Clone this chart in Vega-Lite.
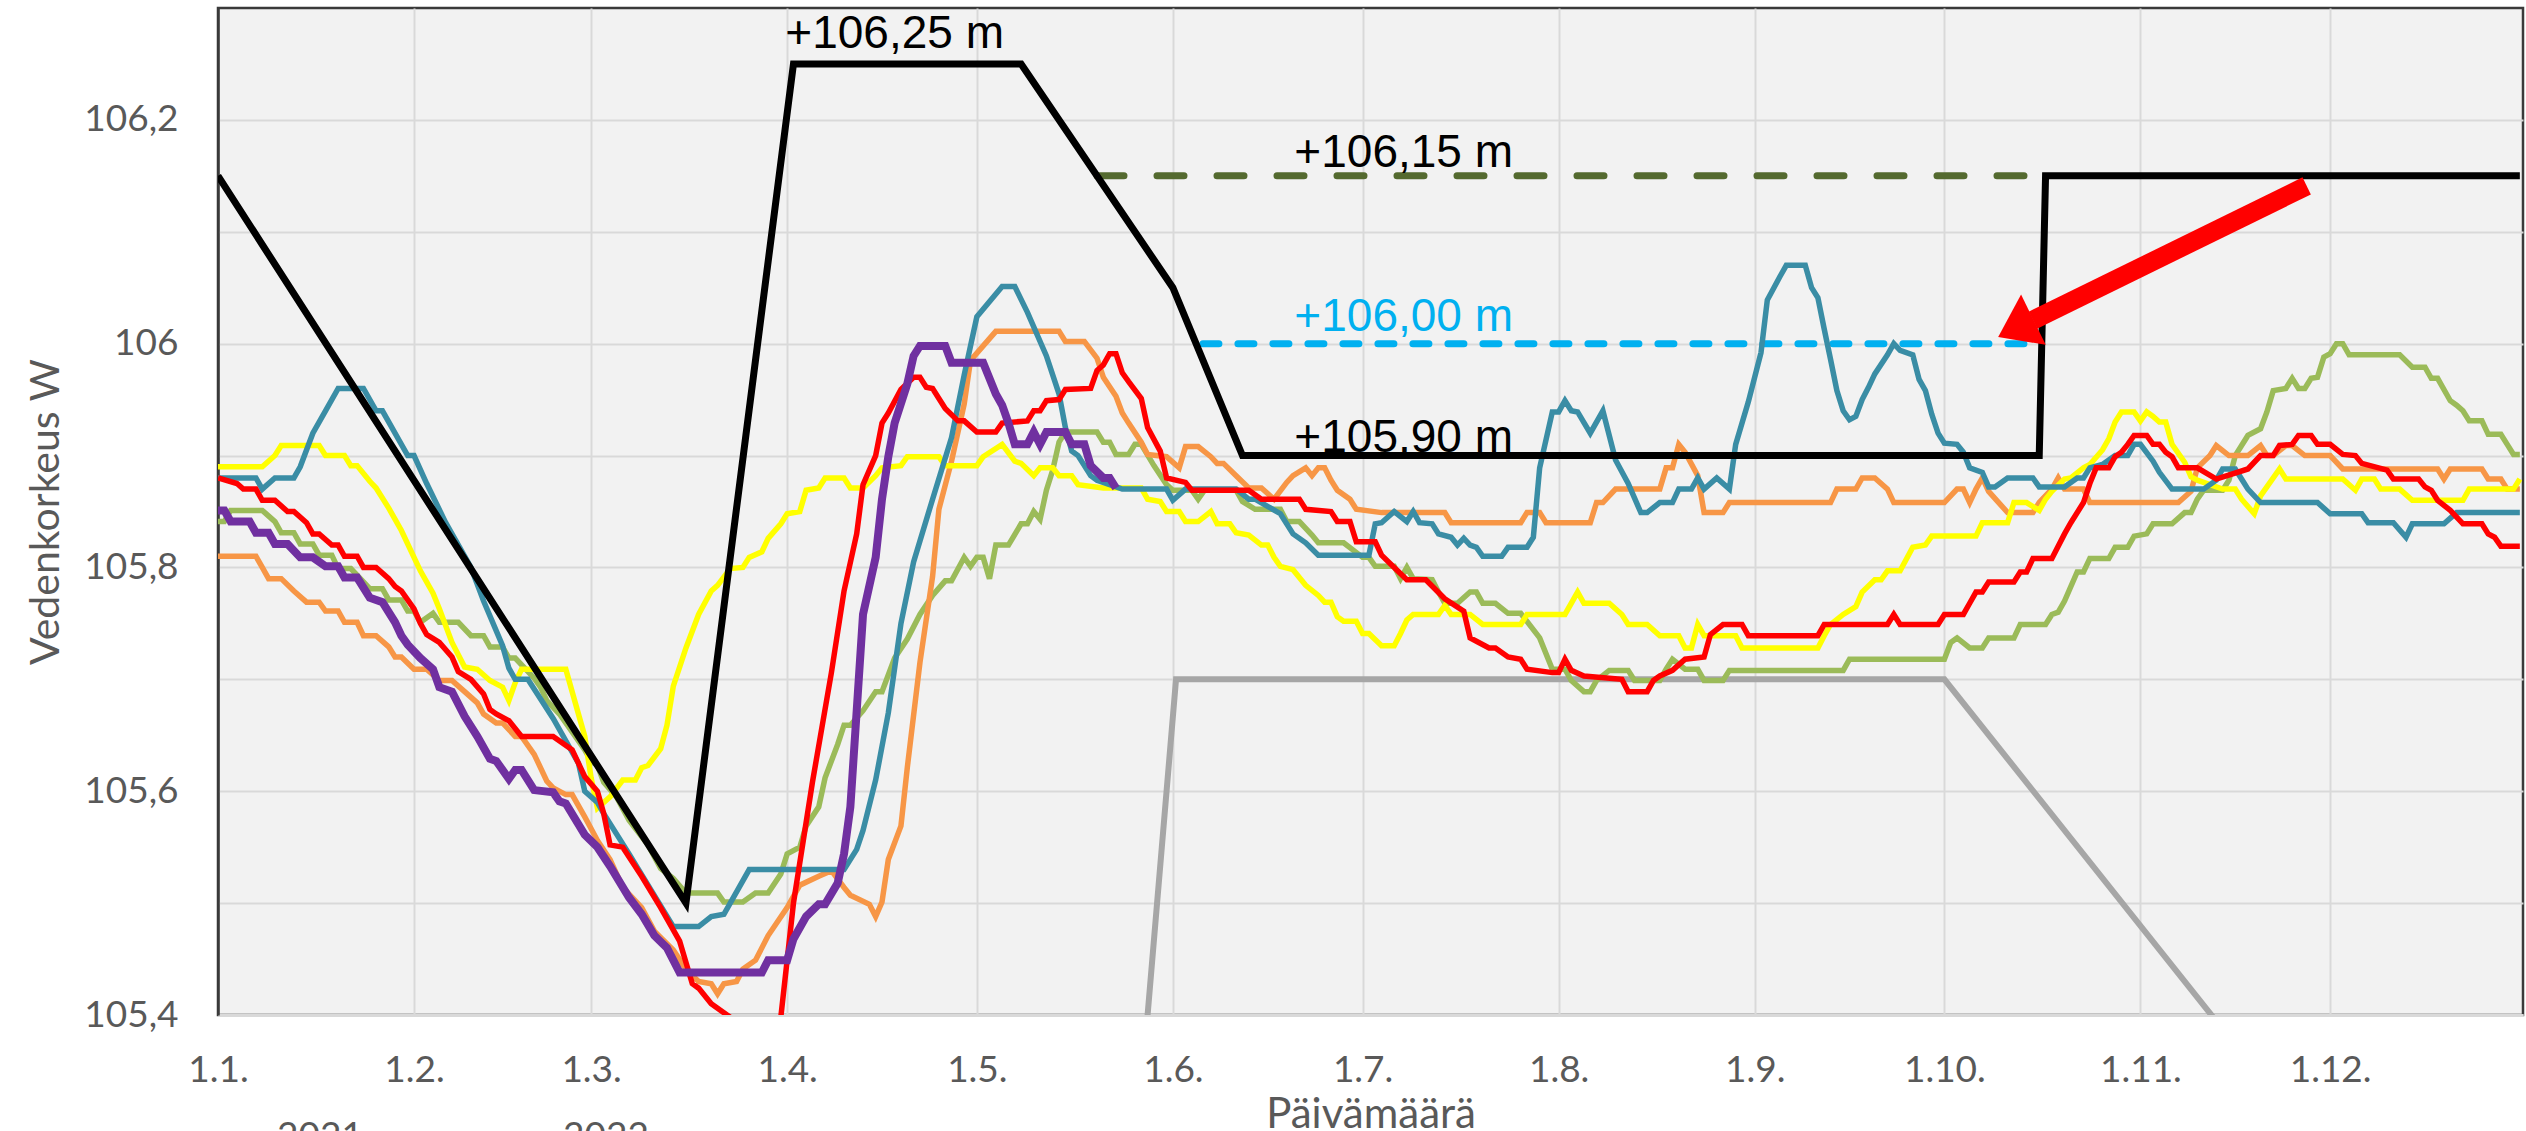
{
  "$schema": "https://vega.github.io/schema/vega-lite/v6.json",
  "autosize": {"type": "none"},
  "padding": {"left": 218, "top": 8, "right": 3, "bottom": 116},
  "width": 2305,
  "height": 1007,
  "background": "#ffffff",
  "config": {
    "view": {"fill": "#f2f2f2", "stroke": "#3a3a3a", "strokeWidth": 2.5}
  },
  "datasets": {
    "years": [
      {"s":"2018","t":"2021-01-01","v":105.841},{"s":"2018","t":"2021-01-02","v":105.841},{"s":"2018","t":"2021-01-03","v":105.851},{"s":"2018","t":"2021-01-08","v":105.851},{"s":"2018","t":"2021-01-10","v":105.841},{"s":"2018","t":"2021-01-11","v":105.831},{"s":"2018","t":"2021-01-13","v":105.831},{"s":"2018","t":"2021-01-14","v":105.821},{"s":"2018","t":"2021-01-16","v":105.821},{"s":"2018","t":"2021-01-17","v":105.811},{"s":"2018","t":"2021-01-19","v":105.811},{"s":"2018","t":"2021-01-20","v":105.799},{"s":"2018","t":"2021-01-22","v":105.799},{"s":"2018","t":"2021-01-24","v":105.787},{"s":"2018","t":"2021-01-25","v":105.781},{"s":"2018","t":"2021-01-27","v":105.781},{"s":"2018","t":"2021-01-28","v":105.771},{"s":"2018","t":"2021-01-30","v":105.771},{"s":"2018","t":"2021-01-31","v":105.761},{"s":"2018","t":"2021-02-01","v":105.761},{"s":"2018","t":"2021-02-02","v":105.751},{"s":"2018","t":"2021-02-04","v":105.759},{"s":"2018","t":"2021-02-05","v":105.751},{"s":"2018","t":"2021-02-08","v":105.751},{"s":"2018","t":"2021-02-10","v":105.739},{"s":"2018","t":"2021-02-12","v":105.739},{"s":"2018","t":"2021-02-13","v":105.729},{"s":"2018","t":"2021-02-15","v":105.729},{"s":"2018","t":"2021-02-16","v":105.719},{"s":"2018","t":"2021-02-17","v":105.719},{"s":"2018","t":"2021-02-20","v":105.701},{"s":"2018","t":"2021-02-21","v":105.693},{"s":"2018","t":"2021-02-22","v":105.681},{"s":"2018","t":"2021-02-24","v":105.669},{"s":"2018","t":"2021-02-25","v":105.661},{"s":"2018","t":"2021-02-28","v":105.637},{"s":"2018","t":"2021-03-01","v":105.627},{"s":"2018","t":"2021-03-02","v":105.623},{"s":"2018","t":"2021-03-03","v":105.608},{"s":"2018","t":"2021-03-05","v":105.595},{"s":"2018","t":"2021-03-07","v":105.574},{"s":"2018","t":"2021-03-10","v":105.552},{"s":"2018","t":"2021-03-12","v":105.531},{"s":"2018","t":"2021-03-14","v":105.522},{"s":"2018","t":"2021-03-16","v":105.509},{"s":"2018","t":"2021-03-21","v":105.509},{"s":"2018","t":"2021-03-22","v":105.501},{"s":"2018","t":"2021-03-25","v":105.501},{"s":"2018","t":"2021-03-27","v":105.509},{"s":"2018","t":"2021-03-29","v":105.509},{"s":"2018","t":"2021-03-31","v":105.526},{"s":"2018","t":"2021-04-01","v":105.544},{"s":"2018","t":"2021-04-03","v":105.55},{"s":"2018","t":"2021-04-04","v":105.569},{"s":"2018","t":"2021-04-06","v":105.586},{"s":"2018","t":"2021-04-07","v":105.612},{"s":"2018","t":"2021-04-09","v":105.642},{"s":"2018","t":"2021-04-10","v":105.659},{"s":"2018","t":"2021-04-11","v":105.659},{"s":"2018","t":"2021-04-13","v":105.672},{"s":"2018","t":"2021-04-15","v":105.689},{"s":"2018","t":"2021-04-16","v":105.689},{"s":"2018","t":"2021-04-18","v":105.719},{"s":"2018","t":"2021-04-20","v":105.736},{"s":"2018","t":"2021-04-22","v":105.758},{"s":"2018","t":"2021-04-24","v":105.775},{"s":"2018","t":"2021-04-26","v":105.788},{"s":"2018","t":"2021-04-27","v":105.788},{"s":"2018","t":"2021-04-29","v":105.809},{"s":"2018","t":"2021-04-30","v":105.801},{"s":"2018","t":"2021-05-01","v":105.809},{"s":"2018","t":"2021-05-02","v":105.809},{"s":"2018","t":"2021-05-03","v":105.79},{"s":"2018","t":"2021-05-04","v":105.82},{"s":"2018","t":"2021-05-06","v":105.82},{"s":"2018","t":"2021-05-08","v":105.839},{"s":"2018","t":"2021-05-09","v":105.839},{"s":"2018","t":"2021-05-10","v":105.85},{"s":"2018","t":"2021-05-11","v":105.843},{"s":"2018","t":"2021-05-12","v":105.869},{"s":"2018","t":"2021-05-13","v":105.887},{"s":"2018","t":"2021-05-14","v":105.912},{"s":"2018","t":"2021-05-15","v":105.921},{"s":"2018","t":"2021-05-20","v":105.921},{"s":"2018","t":"2021-05-21","v":105.912},{"s":"2018","t":"2021-05-22","v":105.912},{"s":"2018","t":"2021-05-23","v":105.901},{"s":"2018","t":"2021-05-25","v":105.901},{"s":"2018","t":"2021-05-26","v":105.91},{"s":"2018","t":"2021-05-27","v":105.91},{"s":"2018","t":"2021-05-29","v":105.891},{"s":"2018","t":"2021-05-31","v":105.874},{"s":"2018","t":"2021-06-01","v":105.869},{"s":"2018","t":"2021-06-04","v":105.869},{"s":"2018","t":"2021-06-05","v":105.861},{"s":"2018","t":"2021-06-06","v":105.869},{"s":"2018","t":"2021-06-11","v":105.869},{"s":"2018","t":"2021-06-12","v":105.859},{"s":"2018","t":"2021-06-14","v":105.852},{"s":"2018","t":"2021-06-18","v":105.852},{"s":"2018","t":"2021-06-19","v":105.841},{"s":"2018","t":"2021-06-21","v":105.841},{"s":"2018","t":"2021-06-23","v":105.829},{"s":"2018","t":"2021-06-24","v":105.822},{"s":"2018","t":"2021-06-28","v":105.822},{"s":"2018","t":"2021-07-01","v":105.809},{"s":"2018","t":"2021-07-02","v":105.809},{"s":"2018","t":"2021-07-03","v":105.801},{"s":"2018","t":"2021-07-06","v":105.801},{"s":"2018","t":"2021-07-07","v":105.79},{"s":"2018","t":"2021-07-08","v":105.8},{"s":"2018","t":"2021-07-09","v":105.79},{"s":"2018","t":"2021-07-12","v":105.789},{"s":"2018","t":"2021-07-13","v":105.778},{"s":"2018","t":"2021-07-14","v":105.768},{"s":"2018","t":"2021-07-16","v":105.768},{"s":"2018","t":"2021-07-18","v":105.778},{"s":"2018","t":"2021-07-19","v":105.778},{"s":"2018","t":"2021-07-20","v":105.768},{"s":"2018","t":"2021-07-22","v":105.768},{"s":"2018","t":"2021-07-24","v":105.759},{"s":"2018","t":"2021-07-26","v":105.759},{"s":"2018","t":"2021-07-29","v":105.737},{"s":"2018","t":"2021-07-31","v":105.709},{"s":"2018","t":"2021-08-02","v":105.709},{"s":"2018","t":"2021-08-03","v":105.699},{"s":"2018","t":"2021-08-05","v":105.689},{"s":"2018","t":"2021-08-06","v":105.689},{"s":"2018","t":"2021-08-07","v":105.699},{"s":"2018","t":"2021-08-09","v":105.708},{"s":"2018","t":"2021-08-12","v":105.708},{"s":"2018","t":"2021-08-13","v":105.699},{"s":"2018","t":"2021-08-17","v":105.699},{"s":"2018","t":"2021-08-18","v":105.709},{"s":"2018","t":"2021-08-19","v":105.718},{"s":"2018","t":"2021-08-21","v":105.709},{"s":"2018","t":"2021-08-23","v":105.709},{"s":"2018","t":"2021-08-24","v":105.699},{"s":"2018","t":"2021-08-27","v":105.699},{"s":"2018","t":"2021-08-28","v":105.708},{"s":"2018","t":"2021-09-15","v":105.708},{"s":"2018","t":"2021-09-16","v":105.718},{"s":"2018","t":"2021-10-01","v":105.718},{"s":"2018","t":"2021-10-02","v":105.733},{"s":"2018","t":"2021-10-03","v":105.737},{"s":"2018","t":"2021-10-05","v":105.728},{"s":"2018","t":"2021-10-07","v":105.728},{"s":"2018","t":"2021-10-08","v":105.737},{"s":"2018","t":"2021-10-12","v":105.737},{"s":"2018","t":"2021-10-13","v":105.749},{"s":"2018","t":"2021-10-17","v":105.749},{"s":"2018","t":"2021-10-18","v":105.758},{"s":"2018","t":"2021-10-19","v":105.76},{"s":"2018","t":"2021-10-20","v":105.77},{"s":"2018","t":"2021-10-22","v":105.796},{"s":"2018","t":"2021-10-23","v":105.796},{"s":"2018","t":"2021-10-24","v":105.808},{"s":"2018","t":"2021-10-27","v":105.808},{"s":"2018","t":"2021-10-28","v":105.818},{"s":"2018","t":"2021-10-30","v":105.818},{"s":"2018","t":"2021-10-31","v":105.828},{"s":"2018","t":"2021-11-02","v":105.83},{"s":"2018","t":"2021-11-03","v":105.839},{"s":"2018","t":"2021-11-06","v":105.839},{"s":"2018","t":"2021-11-08","v":105.849},{"s":"2018","t":"2021-11-09","v":105.849},{"s":"2018","t":"2021-11-10","v":105.861},{"s":"2018","t":"2021-11-11","v":105.869},{"s":"2018","t":"2021-11-14","v":105.869},{"s":"2018","t":"2021-11-15","v":105.878},{"s":"2018","t":"2021-11-16","v":105.9},{"s":"2018","t":"2021-11-18","v":105.918},{"s":"2018","t":"2021-11-20","v":105.924},{"s":"2018","t":"2021-11-21","v":105.939},{"s":"2018","t":"2021-11-22","v":105.958},{"s":"2018","t":"2021-11-24","v":105.96},{"s":"2018","t":"2021-11-25","v":105.969},{"s":"2018","t":"2021-11-26","v":105.96},{"s":"2018","t":"2021-11-27","v":105.96},{"s":"2018","t":"2021-11-28","v":105.969},{"s":"2018","t":"2021-11-29","v":105.97},{"s":"2018","t":"2021-11-30","v":105.988},{"s":"2018","t":"2021-12-01","v":105.991},{"s":"2018","t":"2021-12-02","v":106.0},{"s":"2018","t":"2021-12-03","v":106.0},{"s":"2018","t":"2021-12-04","v":105.99},{"s":"2018","t":"2021-12-12","v":105.99},{"s":"2018","t":"2021-12-14","v":105.979},{"s":"2018","t":"2021-12-16","v":105.979},{"s":"2018","t":"2021-12-17","v":105.969},{"s":"2018","t":"2021-12-18","v":105.969},{"s":"2018","t":"2021-12-20","v":105.949},{"s":"2018","t":"2021-12-21","v":105.945},{"s":"2018","t":"2021-12-22","v":105.94},{"s":"2018","t":"2021-12-23","v":105.931},{"s":"2018","t":"2021-12-25","v":105.931},{"s":"2018","t":"2021-12-26","v":105.919},{"s":"2018","t":"2021-12-28","v":105.919},{"s":"2018","t":"2021-12-29","v":105.91},{"s":"2018","t":"2021-12-30","v":105.901},{"s":"2018","t":"2021-12-31","v":105.901},

      {"s":"2020","t":"2021-01-01","v":105.81},{"s":"2020","t":"2021-01-07","v":105.81},{"s":"2020","t":"2021-01-08","v":105.8},{"s":"2020","t":"2021-01-09","v":105.79},{"s":"2020","t":"2021-01-11","v":105.79},{"s":"2020","t":"2021-01-13","v":105.779},{"s":"2020","t":"2021-01-15","v":105.769},{"s":"2020","t":"2021-01-17","v":105.769},{"s":"2020","t":"2021-01-18","v":105.761},{"s":"2020","t":"2021-01-20","v":105.761},{"s":"2020","t":"2021-01-21","v":105.751},{"s":"2020","t":"2021-01-23","v":105.751},{"s":"2020","t":"2021-01-24","v":105.739},{"s":"2020","t":"2021-01-26","v":105.739},{"s":"2020","t":"2021-01-28","v":105.729},{"s":"2020","t":"2021-01-29","v":105.72},{"s":"2020","t":"2021-01-30","v":105.72},{"s":"2020","t":"2021-02-01","v":105.709},{"s":"2020","t":"2021-02-03","v":105.709},{"s":"2020","t":"2021-02-05","v":105.699},{"s":"2020","t":"2021-02-07","v":105.699},{"s":"2020","t":"2021-02-09","v":105.689},{"s":"2020","t":"2021-02-11","v":105.679},{"s":"2020","t":"2021-02-12","v":105.669},{"s":"2020","t":"2021-02-14","v":105.661},{"s":"2020","t":"2021-02-15","v":105.661},{"s":"2020","t":"2021-02-17","v":105.649},{"s":"2020","t":"2021-02-18","v":105.649},{"s":"2020","t":"2021-02-20","v":105.633},{"s":"2020","t":"2021-02-22","v":105.609},{"s":"2020","t":"2021-02-23","v":105.603},{"s":"2020","t":"2021-02-25","v":105.597},{"s":"2020","t":"2021-02-26","v":105.597},{"s":"2020","t":"2021-02-28","v":105.577},{"s":"2020","t":"2021-03-02","v":105.556},{"s":"2020","t":"2021-03-04","v":105.539},{"s":"2020","t":"2021-03-06","v":105.514},{"s":"2020","t":"2021-03-09","v":105.496},{"s":"2020","t":"2021-03-11","v":105.475},{"s":"2020","t":"2021-03-14","v":105.458},{"s":"2020","t":"2021-03-16","v":105.441},{"s":"2020","t":"2021-03-18","v":105.43},{"s":"2020","t":"2021-03-20","v":105.428},{"s":"2020","t":"2021-03-21","v":105.419},{"s":"2020","t":"2021-03-22","v":105.428},{"s":"2020","t":"2021-03-24","v":105.43},{"s":"2020","t":"2021-03-25","v":105.441},{"s":"2020","t":"2021-03-27","v":105.449},{"s":"2020","t":"2021-03-29","v":105.471},{"s":"2020","t":"2021-04-01","v":105.496},{"s":"2020","t":"2021-04-03","v":105.516},{"s":"2020","t":"2021-04-06","v":105.524},{"s":"2020","t":"2021-04-08","v":105.529},{"s":"2020","t":"2021-04-10","v":105.514},{"s":"2020","t":"2021-04-11","v":105.507},{"s":"2020","t":"2021-04-14","v":105.499},{"s":"2020","t":"2021-04-15","v":105.488},{"s":"2020","t":"2021-04-16","v":105.501},{"s":"2020","t":"2021-04-17","v":105.539},{"s":"2020","t":"2021-04-19","v":105.569},{"s":"2020","t":"2021-04-20","v":105.621},{"s":"2020","t":"2021-04-22","v":105.715},{"s":"2020","t":"2021-04-24","v":105.792},{"s":"2020","t":"2021-04-25","v":105.852},{"s":"2020","t":"2021-04-27","v":105.895},{"s":"2020","t":"2021-04-29","v":105.946},{"s":"2020","t":"2021-04-30","v":105.985},{"s":"2020","t":"2021-05-02","v":105.998},{"s":"2020","t":"2021-05-04","v":106.011},{"s":"2020","t":"2021-05-14","v":106.011},{"s":"2020","t":"2021-05-15","v":106.002},{"s":"2020","t":"2021-05-18","v":106.002},{"s":"2020","t":"2021-05-20","v":105.987},{"s":"2020","t":"2021-05-21","v":105.97},{"s":"2020","t":"2021-05-23","v":105.953},{"s":"2020","t":"2021-05-24","v":105.938},{"s":"2020","t":"2021-05-25","v":105.929},{"s":"2020","t":"2021-05-27","v":105.912},{"s":"2020","t":"2021-05-28","v":105.901},{"s":"2020","t":"2021-05-31","v":105.899},{"s":"2020","t":"2021-06-02","v":105.889},{"s":"2020","t":"2021-06-03","v":105.908},{"s":"2020","t":"2021-06-05","v":105.908},{"s":"2020","t":"2021-06-07","v":105.899},{"s":"2020","t":"2021-06-08","v":105.893},{"s":"2020","t":"2021-06-09","v":105.893},{"s":"2020","t":"2021-06-11","v":105.882},{"s":"2020","t":"2021-06-13","v":105.871},{"s":"2020","t":"2021-06-15","v":105.871},{"s":"2020","t":"2021-06-17","v":105.861},{"s":"2020","t":"2021-06-19","v":105.876},{"s":"2020","t":"2021-06-20","v":105.882},{"s":"2020","t":"2021-06-22","v":105.889},{"s":"2020","t":"2021-06-23","v":105.882},{"s":"2020","t":"2021-06-24","v":105.889},{"s":"2020","t":"2021-06-25","v":105.889},{"s":"2020","t":"2021-06-26","v":105.878},{"s":"2020","t":"2021-06-27","v":105.869},{"s":"2020","t":"2021-06-29","v":105.861},{"s":"2020","t":"2021-06-30","v":105.852},{"s":"2020","t":"2021-07-04","v":105.849},{"s":"2020","t":"2021-07-14","v":105.849},{"s":"2020","t":"2021-07-15","v":105.84},{"s":"2020","t":"2021-07-26","v":105.84},{"s":"2020","t":"2021-07-27","v":105.849},{"s":"2020","t":"2021-07-29","v":105.849},{"s":"2020","t":"2021-07-30","v":105.84},{"s":"2020","t":"2021-08-06","v":105.84},{"s":"2020","t":"2021-08-07","v":105.858},{"s":"2020","t":"2021-08-08","v":105.858},{"s":"2020","t":"2021-08-10","v":105.87},{"s":"2020","t":"2021-08-17","v":105.87},{"s":"2020","t":"2021-08-18","v":105.889},{"s":"2020","t":"2021-08-19","v":105.889},{"s":"2020","t":"2021-08-20","v":105.91},{"s":"2020","t":"2021-08-21","v":105.903},{"s":"2020","t":"2021-08-23","v":105.882},{"s":"2020","t":"2021-08-24","v":105.849},{"s":"2020","t":"2021-08-27","v":105.849},{"s":"2020","t":"2021-08-28","v":105.858},{"s":"2020","t":"2021-09-13","v":105.858},{"s":"2020","t":"2021-09-14","v":105.87},{"s":"2020","t":"2021-09-17","v":105.87},{"s":"2020","t":"2021-09-18","v":105.88},{"s":"2020","t":"2021-09-20","v":105.88},{"s":"2020","t":"2021-09-22","v":105.87},{"s":"2020","t":"2021-09-23","v":105.858},{"s":"2020","t":"2021-10-01","v":105.858},{"s":"2020","t":"2021-10-03","v":105.87},{"s":"2020","t":"2021-10-04","v":105.87},{"s":"2020","t":"2021-10-05","v":105.858},{"s":"2020","t":"2021-10-06","v":105.87},{"s":"2020","t":"2021-10-07","v":105.88},{"s":"2020","t":"2021-10-08","v":105.868},{"s":"2020","t":"2021-10-11","v":105.849},{"s":"2020","t":"2021-10-15","v":105.849},{"s":"2020","t":"2021-10-16","v":105.858},{"s":"2020","t":"2021-10-18","v":105.87},{"s":"2020","t":"2021-10-19","v":105.88},{"s":"2020","t":"2021-10-20","v":105.87},{"s":"2020","t":"2021-10-23","v":105.87},{"s":"2020","t":"2021-10-24","v":105.858},{"s":"2020","t":"2021-11-07","v":105.858},{"s":"2020","t":"2021-11-09","v":105.868},{"s":"2020","t":"2021-11-10","v":105.889},{"s":"2020","t":"2021-11-12","v":105.9},{"s":"2020","t":"2021-11-13","v":105.909},{"s":"2020","t":"2021-11-15","v":105.9},{"s":"2020","t":"2021-11-18","v":105.9},{"s":"2020","t":"2021-11-20","v":105.909},{"s":"2020","t":"2021-11-21","v":105.9},{"s":"2020","t":"2021-11-22","v":105.9},{"s":"2020","t":"2021-11-24","v":105.909},{"s":"2020","t":"2021-11-25","v":105.909},{"s":"2020","t":"2021-11-27","v":105.9},{"s":"2020","t":"2021-12-01","v":105.9},{"s":"2020","t":"2021-12-03","v":105.888},{"s":"2020","t":"2021-12-18","v":105.888},{"s":"2020","t":"2021-12-19","v":105.879},{"s":"2020","t":"2021-12-20","v":105.888},{"s":"2020","t":"2021-12-25","v":105.888},{"s":"2020","t":"2021-12-26","v":105.879},{"s":"2020","t":"2021-12-28","v":105.879},{"s":"2020","t":"2021-12-29","v":105.87},{"s":"2020","t":"2021-12-31","v":105.87},

      {"s":"2022","t":"2021-01-01","v":105.89},{"s":"2022","t":"2021-01-08","v":105.89},{"s":"2022","t":"2021-01-10","v":105.9},{"s":"2022","t":"2021-01-11","v":105.909},{"s":"2022","t":"2021-01-17","v":105.909},{"s":"2022","t":"2021-01-18","v":105.9},{"s":"2022","t":"2021-01-21","v":105.9},{"s":"2022","t":"2021-01-22","v":105.891},{"s":"2022","t":"2021-01-23","v":105.891},{"s":"2022","t":"2021-01-25","v":105.877},{"s":"2022","t":"2021-01-26","v":105.871},{"s":"2022","t":"2021-01-28","v":105.853},{"s":"2022","t":"2021-01-30","v":105.833},{"s":"2022","t":"2021-02-02","v":105.797},{"s":"2022","t":"2021-02-04","v":105.777},{"s":"2022","t":"2021-02-05","v":105.763},{"s":"2022","t":"2021-02-07","v":105.733},{"s":"2022","t":"2021-02-09","v":105.711},{"s":"2022","t":"2021-02-11","v":105.709},{"s":"2022","t":"2021-02-13","v":105.699},{"s":"2022","t":"2021-02-15","v":105.693},{"s":"2022","t":"2021-02-16","v":105.681},{"s":"2022","t":"2021-02-17","v":105.697},{"s":"2022","t":"2021-02-18","v":105.709},{"s":"2022","t":"2021-02-25","v":105.709},{"s":"2022","t":"2021-02-28","v":105.649},{"s":"2022","t":"2021-03-01","v":105.612},{"s":"2022","t":"2021-03-02","v":105.585},{"s":"2022","t":"2021-03-04","v":105.595},{"s":"2022","t":"2021-03-06","v":105.61},{"s":"2022","t":"2021-03-08","v":105.61},{"s":"2022","t":"2021-03-09","v":105.621},{"s":"2022","t":"2021-03-10","v":105.623},{"s":"2022","t":"2021-03-12","v":105.638},{"s":"2022","t":"2021-03-13","v":105.659},{"s":"2022","t":"2021-03-14","v":105.694},{"s":"2022","t":"2021-03-16","v":105.728},{"s":"2022","t":"2021-03-18","v":105.758},{"s":"2022","t":"2021-03-20","v":105.779},{"s":"2022","t":"2021-03-21","v":105.784},{"s":"2022","t":"2021-03-23","v":105.799},{"s":"2022","t":"2021-03-25","v":105.8},{"s":"2022","t":"2021-03-26","v":105.809},{"s":"2022","t":"2021-03-28","v":105.814},{"s":"2022","t":"2021-03-29","v":105.826},{"s":"2022","t":"2021-03-31","v":105.839},{"s":"2022","t":"2021-04-01","v":105.848},{"s":"2022","t":"2021-04-03","v":105.85},{"s":"2022","t":"2021-04-04","v":105.869},{"s":"2022","t":"2021-04-06","v":105.871},{"s":"2022","t":"2021-04-07","v":105.88},{"s":"2022","t":"2021-04-10","v":105.88},{"s":"2022","t":"2021-04-11","v":105.871},{"s":"2022","t":"2021-04-13","v":105.871},{"s":"2022","t":"2021-04-15","v":105.882},{"s":"2022","t":"2021-04-16","v":105.889},{"s":"2022","t":"2021-04-19","v":105.891},{"s":"2022","t":"2021-04-20","v":105.899},{"s":"2022","t":"2021-04-25","v":105.899},{"s":"2022","t":"2021-04-26","v":105.891},{"s":"2022","t":"2021-05-01","v":105.891},{"s":"2022","t":"2021-05-02","v":105.899},{"s":"2022","t":"2021-05-05","v":105.91},{"s":"2022","t":"2021-05-07","v":105.895},{"s":"2022","t":"2021-05-08","v":105.893},{"s":"2022","t":"2021-05-10","v":105.882},{"s":"2022","t":"2021-05-11","v":105.889},{"s":"2022","t":"2021-05-13","v":105.889},{"s":"2022","t":"2021-05-14","v":105.882},{"s":"2022","t":"2021-05-16","v":105.882},{"s":"2022","t":"2021-05-17","v":105.874},{"s":"2022","t":"2021-05-21","v":105.871},{"s":"2022","t":"2021-05-27","v":105.871},{"s":"2022","t":"2021-05-28","v":105.861},{"s":"2022","t":"2021-05-30","v":105.859},{"s":"2022","t":"2021-05-31","v":105.85},{"s":"2022","t":"2021-06-02","v":105.85},{"s":"2022","t":"2021-06-03","v":105.841},{"s":"2022","t":"2021-06-05","v":105.841},{"s":"2022","t":"2021-06-07","v":105.85},{"s":"2022","t":"2021-06-08","v":105.839},{"s":"2022","t":"2021-06-10","v":105.839},{"s":"2022","t":"2021-06-11","v":105.831},{"s":"2022","t":"2021-06-13","v":105.829},{"s":"2022","t":"2021-06-15","v":105.82},{"s":"2022","t":"2021-06-16","v":105.82},{"s":"2022","t":"2021-06-17","v":105.809},{"s":"2022","t":"2021-06-18","v":105.801},{"s":"2022","t":"2021-06-20","v":105.798},{"s":"2022","t":"2021-06-22","v":105.784},{"s":"2022","t":"2021-06-24","v":105.775},{"s":"2022","t":"2021-06-25","v":105.769},{"s":"2022","t":"2021-06-26","v":105.769},{"s":"2022","t":"2021-06-27","v":105.756},{"s":"2022","t":"2021-06-28","v":105.752},{"s":"2022","t":"2021-06-30","v":105.752},{"s":"2022","t":"2021-07-01","v":105.741},{"s":"2022","t":"2021-07-02","v":105.741},{"s":"2022","t":"2021-07-04","v":105.73},{"s":"2022","t":"2021-07-06","v":105.73},{"s":"2022","t":"2021-07-07","v":105.741},{"s":"2022","t":"2021-07-08","v":105.753},{"s":"2022","t":"2021-07-09","v":105.758},{"s":"2022","t":"2021-07-13","v":105.758},{"s":"2022","t":"2021-07-14","v":105.766},{"s":"2022","t":"2021-07-15","v":105.758},{"s":"2022","t":"2021-07-18","v":105.758},{"s":"2022","t":"2021-07-20","v":105.749},{"s":"2022","t":"2021-07-26","v":105.749},{"s":"2022","t":"2021-07-27","v":105.758},{"s":"2022","t":"2021-08-02","v":105.758},{"s":"2022","t":"2021-08-04","v":105.778},{"s":"2022","t":"2021-08-05","v":105.768},{"s":"2022","t":"2021-08-09","v":105.768},{"s":"2022","t":"2021-08-11","v":105.758},{"s":"2022","t":"2021-08-12","v":105.749},{"s":"2022","t":"2021-08-15","v":105.749},{"s":"2022","t":"2021-08-17","v":105.739},{"s":"2022","t":"2021-08-20","v":105.739},{"s":"2022","t":"2021-08-21","v":105.728},{"s":"2022","t":"2021-08-22","v":105.728},{"s":"2022","t":"2021-08-23","v":105.749},{"s":"2022","t":"2021-08-24","v":105.739},{"s":"2022","t":"2021-08-29","v":105.739},{"s":"2022","t":"2021-08-30","v":105.728},{"s":"2022","t":"2021-09-11","v":105.728},{"s":"2022","t":"2021-09-12","v":105.739},{"s":"2022","t":"2021-09-13","v":105.749},{"s":"2022","t":"2021-09-15","v":105.758},{"s":"2022","t":"2021-09-17","v":105.765},{"s":"2022","t":"2021-09-18","v":105.778},{"s":"2022","t":"2021-09-20","v":105.789},{"s":"2022","t":"2021-09-21","v":105.789},{"s":"2022","t":"2021-09-22","v":105.797},{"s":"2022","t":"2021-09-24","v":105.797},{"s":"2022","t":"2021-09-26","v":105.818},{"s":"2022","t":"2021-09-28","v":105.82},{"s":"2022","t":"2021-09-29","v":105.828},{"s":"2022","t":"2021-10-06","v":105.828},{"s":"2022","t":"2021-10-07","v":105.84},{"s":"2022","t":"2021-10-11","v":105.84},{"s":"2022","t":"2021-10-12","v":105.858},{"s":"2022","t":"2021-10-14","v":105.858},{"s":"2022","t":"2021-10-16","v":105.851},{"s":"2022","t":"2021-10-17","v":105.861},{"s":"2022","t":"2021-10-18","v":105.868},{"s":"2022","t":"2021-10-20","v":105.879},{"s":"2022","t":"2021-10-21","v":105.88},{"s":"2022","t":"2021-10-23","v":105.889},{"s":"2022","t":"2021-10-24","v":105.892},{"s":"2022","t":"2021-10-26","v":105.905},{"s":"2022","t":"2021-10-27","v":105.915},{"s":"2022","t":"2021-10-28","v":105.93},{"s":"2022","t":"2021-10-29","v":105.939},{"s":"2022","t":"2021-10-31","v":105.939},{"s":"2022","t":"2021-11-01","v":105.931},{"s":"2022","t":"2021-11-02","v":105.939},{"s":"2022","t":"2021-11-03","v":105.935},{"s":"2022","t":"2021-11-04","v":105.93},{"s":"2022","t":"2021-11-05","v":105.93},{"s":"2022","t":"2021-11-06","v":105.91},{"s":"2022","t":"2021-11-08","v":105.894},{"s":"2022","t":"2021-11-09","v":105.881},{"s":"2022","t":"2021-11-10","v":105.878},{"s":"2022","t":"2021-11-14","v":105.87},{"s":"2022","t":"2021-11-16","v":105.87},{"s":"2022","t":"2021-11-17","v":105.861},{"s":"2022","t":"2021-11-19","v":105.848},{"s":"2022","t":"2021-11-20","v":105.864},{"s":"2022","t":"2021-11-21","v":105.872},{"s":"2022","t":"2021-11-23","v":105.888},{"s":"2022","t":"2021-11-24","v":105.879},{"s":"2022","t":"2021-12-03","v":105.879},{"s":"2022","t":"2021-12-05","v":105.869},{"s":"2022","t":"2021-12-06","v":105.879},{"s":"2022","t":"2021-12-08","v":105.879},{"s":"2022","t":"2021-12-09","v":105.87},{"s":"2022","t":"2021-12-12","v":105.87},{"s":"2022","t":"2021-12-14","v":105.86},{"s":"2022","t":"2021-12-22","v":105.86},{"s":"2022","t":"2021-12-23","v":105.87},{"s":"2022","t":"2021-12-30","v":105.87},{"s":"2022","t":"2021-12-31","v":105.879},

      {"s":"2019","t":"2021-01-01","v":105.88},{"s":"2019","t":"2021-01-07","v":105.88},{"s":"2019","t":"2021-01-08","v":105.87},{"s":"2019","t":"2021-01-10","v":105.88},{"s":"2019","t":"2021-01-13","v":105.88},{"s":"2019","t":"2021-01-14","v":105.89},{"s":"2019","t":"2021-01-16","v":105.92},{"s":"2019","t":"2021-01-18","v":105.94},{"s":"2019","t":"2021-01-20","v":105.96},{"s":"2019","t":"2021-01-24","v":105.96},{"s":"2019","t":"2021-01-26","v":105.94},{"s":"2019","t":"2021-01-27","v":105.94},{"s":"2019","t":"2021-01-31","v":105.9},{"s":"2019","t":"2021-02-01","v":105.9},{"s":"2019","t":"2021-02-03","v":105.875},{"s":"2019","t":"2021-02-06","v":105.84},{"s":"2019","t":"2021-02-10","v":105.8},{"s":"2019","t":"2021-02-12","v":105.77},{"s":"2019","t":"2021-02-15","v":105.73},{"s":"2019","t":"2021-02-16","v":105.71},{"s":"2019","t":"2021-02-17","v":105.7},{"s":"2019","t":"2021-02-19","v":105.7},{"s":"2019","t":"2021-02-23","v":105.665},{"s":"2019","t":"2021-02-27","v":105.625},{"s":"2019","t":"2021-02-28","v":105.6},{"s":"2019","t":"2021-03-02","v":105.59},{"s":"2019","t":"2021-03-03","v":105.58},{"s":"2019","t":"2021-03-07","v":105.544},{"s":"2019","t":"2021-03-14","v":105.479},{"s":"2019","t":"2021-03-18","v":105.479},{"s":"2019","t":"2021-03-20","v":105.488},{"s":"2019","t":"2021-03-22","v":105.49},{"s":"2019","t":"2021-03-26","v":105.53},{"s":"2019","t":"2021-04-10","v":105.53},{"s":"2019","t":"2021-04-12","v":105.548},{"s":"2019","t":"2021-04-13","v":105.565},{"s":"2019","t":"2021-04-15","v":105.61},{"s":"2019","t":"2021-04-17","v":105.67},{"s":"2019","t":"2021-04-19","v":105.75},{"s":"2019","t":"2021-04-21","v":105.805},{"s":"2019","t":"2021-04-24","v":105.861},{"s":"2019","t":"2021-04-27","v":105.916},{"s":"2019","t":"2021-04-29","v":105.972},{"s":"2019","t":"2021-05-01","v":106.024},{"s":"2019","t":"2021-05-05","v":106.051},{"s":"2019","t":"2021-05-07","v":106.051},{"s":"2019","t":"2021-05-09","v":106.028},{"s":"2019","t":"2021-05-12","v":105.989},{"s":"2019","t":"2021-05-14","v":105.955},{"s":"2019","t":"2021-05-15","v":105.925},{"s":"2019","t":"2021-05-16","v":105.904},{"s":"2019","t":"2021-05-17","v":105.9},{"s":"2019","t":"2021-05-19","v":105.882},{"s":"2019","t":"2021-05-20","v":105.878},{"s":"2019","t":"2021-05-24","v":105.87},{"s":"2019","t":"2021-05-31","v":105.87},{"s":"2019","t":"2021-06-01","v":105.86},{"s":"2019","t":"2021-06-03","v":105.87},{"s":"2019","t":"2021-06-11","v":105.87},{"s":"2019","t":"2021-06-13","v":105.861},{"s":"2019","t":"2021-06-14","v":105.861},{"s":"2019","t":"2021-06-18","v":105.848},{"s":"2019","t":"2021-06-20","v":105.83},{"s":"2019","t":"2021-06-22","v":105.822},{"s":"2019","t":"2021-06-24","v":105.811},{"s":"2019","t":"2021-07-02","v":105.811},{"s":"2019","t":"2021-07-03","v":105.839},{"s":"2019","t":"2021-07-04","v":105.84},{"s":"2019","t":"2021-07-06","v":105.85},{"s":"2019","t":"2021-07-08","v":105.841},{"s":"2019","t":"2021-07-09","v":105.85},{"s":"2019","t":"2021-07-10","v":105.84},{"s":"2019","t":"2021-07-12","v":105.839},{"s":"2019","t":"2021-07-13","v":105.83},{"s":"2019","t":"2021-07-15","v":105.827},{"s":"2019","t":"2021-07-16","v":105.82},{"s":"2019","t":"2021-07-17","v":105.826},{"s":"2019","t":"2021-07-18","v":105.82},{"s":"2019","t":"2021-07-19","v":105.818},{"s":"2019","t":"2021-07-20","v":105.81},{"s":"2019","t":"2021-07-23","v":105.81},{"s":"2019","t":"2021-07-24","v":105.818},{"s":"2019","t":"2021-07-27","v":105.818},{"s":"2019","t":"2021-07-28","v":105.827},{"s":"2019","t":"2021-07-29","v":105.889},{"s":"2019","t":"2021-07-31","v":105.939},{"s":"2019","t":"2021-08-01","v":105.939},{"s":"2019","t":"2021-08-02","v":105.949},{"s":"2019","t":"2021-08-03","v":105.94},{"s":"2019","t":"2021-08-04","v":105.939},{"s":"2019","t":"2021-08-06","v":105.92},{"s":"2019","t":"2021-08-08","v":105.94},{"s":"2019","t":"2021-08-10","v":105.896},{"s":"2019","t":"2021-08-12","v":105.875},{"s":"2019","t":"2021-08-14","v":105.849},{"s":"2019","t":"2021-08-15","v":105.849},{"s":"2019","t":"2021-08-17","v":105.858},{"s":"2019","t":"2021-08-19","v":105.858},{"s":"2019","t":"2021-08-20","v":105.87},{"s":"2019","t":"2021-08-22","v":105.87},{"s":"2019","t":"2021-08-23","v":105.88},{"s":"2019","t":"2021-08-24","v":105.87},{"s":"2019","t":"2021-08-26","v":105.88},{"s":"2019","t":"2021-08-28","v":105.87},{"s":"2019","t":"2021-08-29","v":105.91},{"s":"2019","t":"2021-08-31","v":105.948},{"s":"2019","t":"2021-09-02","v":105.992},{"s":"2019","t":"2021-09-03","v":106.039},{"s":"2019","t":"2021-09-05","v":106.06},{"s":"2019","t":"2021-09-06","v":106.07},{"s":"2019","t":"2021-09-09","v":106.07},{"s":"2019","t":"2021-09-10","v":106.05},{"s":"2019","t":"2021-09-11","v":106.041},{"s":"2019","t":"2021-09-12","v":106.013},{"s":"2019","t":"2021-09-13","v":105.986},{"s":"2019","t":"2021-09-14","v":105.958},{"s":"2019","t":"2021-09-15","v":105.94},{"s":"2019","t":"2021-09-16","v":105.932},{"s":"2019","t":"2021-09-17","v":105.935},{"s":"2019","t":"2021-09-18","v":105.95},{"s":"2019","t":"2021-09-19","v":105.961},{"s":"2019","t":"2021-09-20","v":105.973},{"s":"2019","t":"2021-09-22","v":105.99},{"s":"2019","t":"2021-09-23","v":106.0},{"s":"2019","t":"2021-09-24","v":105.994},{"s":"2019","t":"2021-09-26","v":105.99},{"s":"2019","t":"2021-09-27","v":105.968},{"s":"2019","t":"2021-09-28","v":105.958},{"s":"2019","t":"2021-09-29","v":105.937},{"s":"2019","t":"2021-09-30","v":105.92},{"s":"2019","t":"2021-10-01","v":105.911},{"s":"2019","t":"2021-10-03","v":105.91},{"s":"2019","t":"2021-10-04","v":105.903},{"s":"2019","t":"2021-10-05","v":105.889},{"s":"2019","t":"2021-10-07","v":105.885},{"s":"2019","t":"2021-10-08","v":105.872},{"s":"2019","t":"2021-10-09","v":105.872},{"s":"2019","t":"2021-10-11","v":105.88},{"s":"2019","t":"2021-10-15","v":105.88},{"s":"2019","t":"2021-10-16","v":105.872},{"s":"2019","t":"2021-10-20","v":105.872},{"s":"2019","t":"2021-10-22","v":105.88},{"s":"2019","t":"2021-10-23","v":105.88},{"s":"2019","t":"2021-10-24","v":105.889},{"s":"2019","t":"2021-10-26","v":105.892},{"s":"2019","t":"2021-10-28","v":105.9},{"s":"2019","t":"2021-10-30","v":105.9},{"s":"2019","t":"2021-10-31","v":105.91},{"s":"2019","t":"2021-11-01","v":105.91},{"s":"2019","t":"2021-11-03","v":105.895},{"s":"2019","t":"2021-11-04","v":105.885},{"s":"2019","t":"2021-11-06","v":105.87},{"s":"2019","t":"2021-11-11","v":105.87},{"s":"2019","t":"2021-11-13","v":105.878},{"s":"2019","t":"2021-11-14","v":105.888},{"s":"2019","t":"2021-11-16","v":105.888},{"s":"2019","t":"2021-11-17","v":105.879},{"s":"2019","t":"2021-11-18","v":105.87},{"s":"2019","t":"2021-11-20","v":105.858},{"s":"2019","t":"2021-11-29","v":105.858},{"s":"2019","t":"2021-12-01","v":105.848},{"s":"2019","t":"2021-12-06","v":105.848},{"s":"2019","t":"2021-12-07","v":105.84},{"s":"2019","t":"2021-12-11","v":105.84},{"s":"2019","t":"2021-12-13","v":105.827},{"s":"2019","t":"2021-12-14","v":105.839},{"s":"2019","t":"2021-12-19","v":105.839},{"s":"2019","t":"2021-12-21","v":105.849},{"s":"2019","t":"2021-12-31","v":105.849},

      {"s":"2021","t":"2021-01-01","v":105.88},{"s":"2021","t":"2021-01-04","v":105.875},{"s":"2021","t":"2021-01-05","v":105.87},{"s":"2021","t":"2021-01-07","v":105.87},{"s":"2021","t":"2021-01-08","v":105.86},{"s":"2021","t":"2021-01-10","v":105.86},{"s":"2021","t":"2021-01-12","v":105.85},{"s":"2021","t":"2021-01-13","v":105.85},{"s":"2021","t":"2021-01-15","v":105.84},{"s":"2021","t":"2021-01-16","v":105.83},{"s":"2021","t":"2021-01-17","v":105.83},{"s":"2021","t":"2021-01-19","v":105.82},{"s":"2021","t":"2021-01-20","v":105.82},{"s":"2021","t":"2021-01-21","v":105.81},{"s":"2021","t":"2021-01-23","v":105.81},{"s":"2021","t":"2021-01-24","v":105.8},{"s":"2021","t":"2021-01-26","v":105.8},{"s":"2021","t":"2021-01-28","v":105.79},{"s":"2021","t":"2021-01-29","v":105.783},{"s":"2021","t":"2021-01-30","v":105.779},{"s":"2021","t":"2021-02-01","v":105.763},{"s":"2021","t":"2021-02-02","v":105.75},{"s":"2021","t":"2021-02-03","v":105.74},{"s":"2021","t":"2021-02-05","v":105.733},{"s":"2021","t":"2021-02-07","v":105.72},{"s":"2021","t":"2021-02-08","v":105.707},{"s":"2021","t":"2021-02-10","v":105.7},{"s":"2021","t":"2021-02-12","v":105.687},{"s":"2021","t":"2021-02-13","v":105.673},{"s":"2021","t":"2021-02-14","v":105.669},{"s":"2021","t":"2021-02-16","v":105.663},{"s":"2021","t":"2021-02-18","v":105.649},{"s":"2021","t":"2021-02-23","v":105.649},{"s":"2021","t":"2021-02-26","v":105.637},{"s":"2021","t":"2021-02-28","v":105.613},{"s":"2021","t":"2021-03-02","v":105.6},{"s":"2021","t":"2021-03-03","v":105.58},{"s":"2021","t":"2021-03-04","v":105.552},{"s":"2021","t":"2021-03-06","v":105.55},{"s":"2021","t":"2021-03-09","v":105.524},{"s":"2021","t":"2021-03-12","v":105.496},{"s":"2021","t":"2021-03-15","v":105.466},{"s":"2021","t":"2021-03-17","v":105.428},{"s":"2021","t":"2021-03-18","v":105.424},{"s":"2021","t":"2021-03-20","v":105.41},{"s":"2021","t":"2021-03-23","v":105.398},{"s":"2021","t":"2021-03-27","v":105.35},{"s":"2021","t":"2021-03-31","v":105.398},{"s":"2021","t":"2021-04-02","v":105.5},{"s":"2021","t":"2021-04-05","v":105.608},{"s":"2021","t":"2021-04-08","v":105.706},{"s":"2021","t":"2021-04-10","v":105.779},{"s":"2021","t":"2021-04-12","v":105.83},{"s":"2021","t":"2021-04-13","v":105.874},{"s":"2021","t":"2021-04-15","v":105.9},{"s":"2021","t":"2021-04-16","v":105.929},{"s":"2021","t":"2021-04-17","v":105.938},{"s":"2021","t":"2021-04-19","v":105.959},{"s":"2021","t":"2021-04-21","v":105.97},{"s":"2021","t":"2021-04-22","v":105.97},{"s":"2021","t":"2021-04-23","v":105.961},{"s":"2021","t":"2021-04-24","v":105.96},{"s":"2021","t":"2021-04-26","v":105.942},{"s":"2021","t":"2021-04-28","v":105.931},{"s":"2021","t":"2021-04-29","v":105.931},{"s":"2021","t":"2021-05-01","v":105.921},{"s":"2021","t":"2021-05-04","v":105.921},{"s":"2021","t":"2021-05-05","v":105.929},{"s":"2021","t":"2021-05-09","v":105.931},{"s":"2021","t":"2021-05-10","v":105.94},{"s":"2021","t":"2021-05-11","v":105.94},{"s":"2021","t":"2021-05-12","v":105.949},{"s":"2021","t":"2021-05-14","v":105.95},{"s":"2021","t":"2021-05-15","v":105.959},{"s":"2021","t":"2021-05-19","v":105.96},{"s":"2021","t":"2021-05-20","v":105.976},{"s":"2021","t":"2021-05-21","v":105.981},{"s":"2021","t":"2021-05-22","v":105.991},{"s":"2021","t":"2021-05-23","v":105.991},{"s":"2021","t":"2021-05-24","v":105.974},{"s":"2021","t":"2021-05-25","v":105.966},{"s":"2021","t":"2021-05-27","v":105.951},{"s":"2021","t":"2021-05-28","v":105.925},{"s":"2021","t":"2021-05-30","v":105.904},{"s":"2021","t":"2021-05-31","v":105.88},{"s":"2021","t":"2021-06-03","v":105.876},{"s":"2021","t":"2021-06-04","v":105.869},{"s":"2021","t":"2021-06-13","v":105.869},{"s":"2021","t":"2021-06-15","v":105.861},{"s":"2021","t":"2021-06-21","v":105.861},{"s":"2021","t":"2021-06-22","v":105.852},{"s":"2021","t":"2021-06-26","v":105.85},{"s":"2021","t":"2021-06-27","v":105.841},{"s":"2021","t":"2021-06-29","v":105.841},{"s":"2021","t":"2021-06-30","v":105.823},{"s":"2021","t":"2021-07-03","v":105.823},{"s":"2021","t":"2021-07-04","v":105.811},{"s":"2021","t":"2021-07-06","v":105.8},{"s":"2021","t":"2021-07-08","v":105.789},{"s":"2021","t":"2021-07-11","v":105.789},{"s":"2021","t":"2021-07-14","v":105.772},{"s":"2021","t":"2021-07-17","v":105.761},{"s":"2021","t":"2021-07-18","v":105.737},{"s":"2021","t":"2021-07-19","v":105.734},{"s":"2021","t":"2021-07-21","v":105.728},{"s":"2021","t":"2021-07-22","v":105.728},{"s":"2021","t":"2021-07-24","v":105.72},{"s":"2021","t":"2021-07-26","v":105.718},{"s":"2021","t":"2021-07-27","v":105.709},{"s":"2021","t":"2021-07-31","v":105.706},{"s":"2021","t":"2021-08-01","v":105.706},{"s":"2021","t":"2021-08-02","v":105.718},{"s":"2021","t":"2021-08-03","v":105.708},{"s":"2021","t":"2021-08-05","v":105.703},{"s":"2021","t":"2021-08-11","v":105.7},{"s":"2021","t":"2021-08-12","v":105.689},{"s":"2021","t":"2021-08-15","v":105.689},{"s":"2021","t":"2021-08-16","v":105.699},{"s":"2021","t":"2021-08-17","v":105.703},{"s":"2021","t":"2021-08-19","v":105.708},{"s":"2021","t":"2021-08-21","v":105.718},{"s":"2021","t":"2021-08-24","v":105.72},{"s":"2021","t":"2021-08-25","v":105.74},{"s":"2021","t":"2021-08-27","v":105.749},{"s":"2021","t":"2021-08-30","v":105.749},{"s":"2021","t":"2021-08-31","v":105.739},{"s":"2021","t":"2021-09-11","v":105.739},{"s":"2021","t":"2021-09-12","v":105.749},{"s":"2021","t":"2021-09-22","v":105.749},{"s":"2021","t":"2021-09-23","v":105.758},{"s":"2021","t":"2021-09-24","v":105.749},{"s":"2021","t":"2021-09-30","v":105.749},{"s":"2021","t":"2021-10-01","v":105.758},{"s":"2021","t":"2021-10-04","v":105.758},{"s":"2021","t":"2021-10-05","v":105.768},{"s":"2021","t":"2021-10-06","v":105.778},{"s":"2021","t":"2021-10-07","v":105.778},{"s":"2021","t":"2021-10-08","v":105.787},{"s":"2021","t":"2021-10-12","v":105.787},{"s":"2021","t":"2021-10-13","v":105.796},{"s":"2021","t":"2021-10-14","v":105.796},{"s":"2021","t":"2021-10-15","v":105.808},{"s":"2021","t":"2021-10-18","v":105.808},{"s":"2021","t":"2021-10-20","v":105.83},{"s":"2021","t":"2021-10-21","v":105.84},{"s":"2021","t":"2021-10-23","v":105.858},{"s":"2021","t":"2021-10-24","v":105.875},{"s":"2021","t":"2021-10-25","v":105.889},{"s":"2021","t":"2021-10-27","v":105.889},{"s":"2021","t":"2021-10-28","v":105.899},{"s":"2021","t":"2021-10-29","v":105.903},{"s":"2021","t":"2021-10-30","v":105.91},{"s":"2021","t":"2021-10-31","v":105.918},{"s":"2021","t":"2021-11-02","v":105.918},{"s":"2021","t":"2021-11-03","v":105.91},{"s":"2021","t":"2021-11-04","v":105.91},{"s":"2021","t":"2021-11-05","v":105.903},{"s":"2021","t":"2021-11-06","v":105.899},{"s":"2021","t":"2021-11-07","v":105.889},{"s":"2021","t":"2021-11-10","v":105.889},{"s":"2021","t":"2021-11-13","v":105.879},{"s":"2021","t":"2021-11-18","v":105.888},{"s":"2021","t":"2021-11-20","v":105.9},{"s":"2021","t":"2021-11-22","v":105.9},{"s":"2021","t":"2021-11-23","v":105.909},{"s":"2021","t":"2021-11-25","v":105.91},{"s":"2021","t":"2021-11-26","v":105.918},{"s":"2021","t":"2021-11-28","v":105.918},{"s":"2021","t":"2021-11-29","v":105.91},{"s":"2021","t":"2021-12-01","v":105.91},{"s":"2021","t":"2021-12-03","v":105.901},{"s":"2021","t":"2021-12-05","v":105.9},{"s":"2021","t":"2021-12-06","v":105.893},{"s":"2021","t":"2021-12-10","v":105.887},{"s":"2021","t":"2021-12-11","v":105.879},{"s":"2021","t":"2021-12-15","v":105.879},{"s":"2021","t":"2021-12-16","v":105.872},{"s":"2021","t":"2021-12-17","v":105.869},{"s":"2021","t":"2021-12-18","v":105.86},{"s":"2021","t":"2021-12-20","v":105.851},{"s":"2021","t":"2021-12-22","v":105.839},{"s":"2021","t":"2021-12-25","v":105.839},{"s":"2021","t":"2021-12-26","v":105.83},{"s":"2021","t":"2021-12-27","v":105.827},{"s":"2021","t":"2021-12-28","v":105.819},{"s":"2021","t":"2021-12-31","v":105.819},

      {"s":"2023","t":"2021-01-01","v":105.851},{"s":"2023","t":"2021-01-02","v":105.851},{"s":"2023","t":"2021-01-03","v":105.841},{"s":"2023","t":"2021-01-06","v":105.841},{"s":"2023","t":"2021-01-07","v":105.831},{"s":"2023","t":"2021-01-09","v":105.831},{"s":"2023","t":"2021-01-10","v":105.821},{"s":"2023","t":"2021-01-12","v":105.821},{"s":"2023","t":"2021-01-14","v":105.809},{"s":"2023","t":"2021-01-16","v":105.809},{"s":"2023","t":"2021-01-18","v":105.801},{"s":"2023","t":"2021-01-20","v":105.801},{"s":"2023","t":"2021-01-21","v":105.791},{"s":"2023","t":"2021-01-23","v":105.791},{"s":"2023","t":"2021-01-25","v":105.773},{"s":"2023","t":"2021-01-27","v":105.769},{"s":"2023","t":"2021-01-29","v":105.751},{"s":"2023","t":"2021-01-30","v":105.739},{"s":"2023","t":"2021-01-31","v":105.731},{"s":"2023","t":"2021-02-02","v":105.719},{"s":"2023","t":"2021-02-04","v":105.709},{"s":"2023","t":"2021-02-05","v":105.693},{"s":"2023","t":"2021-02-07","v":105.689},{"s":"2023","t":"2021-02-09","v":105.667},{"s":"2023","t":"2021-02-11","v":105.649},{"s":"2023","t":"2021-02-13","v":105.629},{"s":"2023","t":"2021-02-14","v":105.627},{"s":"2023","t":"2021-02-16","v":105.611},{"s":"2023","t":"2021-02-17","v":105.619},{"s":"2023","t":"2021-02-18","v":105.619},{"s":"2023","t":"2021-02-20","v":105.601},{"s":"2023","t":"2021-02-23","v":105.599},{"s":"2023","t":"2021-02-24","v":105.591},{"s":"2023","t":"2021-02-25","v":105.589},{"s":"2023","t":"2021-02-28","v":105.561},{"s":"2023","t":"2021-03-02","v":105.55},{"s":"2023","t":"2021-03-04","v":105.533},{"s":"2023","t":"2021-03-07","v":105.505},{"s":"2023","t":"2021-03-09","v":105.49},{"s":"2023","t":"2021-03-11","v":105.471},{"s":"2023","t":"2021-03-13","v":105.46},{"s":"2023","t":"2021-03-15","v":105.438},{"s":"2023","t":"2021-03-28","v":105.438},{"s":"2023","t":"2021-03-29","v":105.449},{"s":"2023","t":"2021-04-01","v":105.449},{"s":"2023","t":"2021-04-02","v":105.468},{"s":"2023","t":"2021-04-04","v":105.488},{"s":"2023","t":"2021-04-06","v":105.499},{"s":"2023","t":"2021-04-07","v":105.499},{"s":"2023","t":"2021-04-09","v":105.518},{"s":"2023","t":"2021-04-10","v":105.544},{"s":"2023","t":"2021-04-11","v":105.586},{"s":"2023","t":"2021-04-12","v":105.672},{"s":"2023","t":"2021-04-13","v":105.758},{"s":"2023","t":"2021-04-15","v":105.809},{"s":"2023","t":"2021-04-16","v":105.861},{"s":"2023","t":"2021-04-17","v":105.899},{"s":"2023","t":"2021-04-18","v":105.929},{"s":"2023","t":"2021-04-20","v":105.964},{"s":"2023","t":"2021-04-21","v":105.989},{"s":"2023","t":"2021-04-22","v":105.998},{"s":"2023","t":"2021-04-26","v":105.998},{"s":"2023","t":"2021-04-27","v":105.983},{"s":"2023","t":"2021-05-02","v":105.983},{"s":"2023","t":"2021-05-04","v":105.955},{"s":"2023","t":"2021-05-05","v":105.945},{"s":"2023","t":"2021-05-06","v":105.929},{"s":"2023","t":"2021-05-07","v":105.91},{"s":"2023","t":"2021-05-09","v":105.91},{"s":"2023","t":"2021-05-10","v":105.921},{"s":"2023","t":"2021-05-11","v":105.91},{"s":"2023","t":"2021-05-12","v":105.921},{"s":"2023","t":"2021-05-15","v":105.921},{"s":"2023","t":"2021-05-16","v":105.91},{"s":"2023","t":"2021-05-18","v":105.91},{"s":"2023","t":"2021-05-19","v":105.891},{"s":"2023","t":"2021-05-21","v":105.88},{"s":"2023","t":"2021-05-22","v":105.88},{"s":"2023","t":"2021-05-23","v":105.871}
    ],
    "upper": [
      {"t":"2021-01-01","v":106.15},{"t":"2021-03-16","v":105.5},{"t":"2021-04-02","v":106.25},{"t":"2021-05-08","v":106.25},{"t":"2021-06-01","v":106.05},{"t":"2021-06-12","v":105.9},{"t":"2021-10-16","v":105.9},{"t":"2021-10-17","v":106.15},{"t":"2021-12-31","v":106.15}
    ],
    "lower": [
      {"t":"2021-05-26","v":105.267},{"t":"2021-05-28","v":105.4},{"t":"2021-06-01T12:00:00Z","v":105.7},{"t":"2021-10-01","v":105.7},{"t":"2021-11-27","v":105.295}
    ],
    "target1": [
      {"t":"2021-05-20","v":106.15},{"t":"2021-10-16","v":106.15}
    ],
    "target2": [
      {"t":"2021-06-05T18:00:00Z","v":106.0},{"t":"2021-10-14T14:00:00Z","v":106.0}
    ],
    "labelsBlack": [
      {"t":"2021-04-18","v":106.264,"txt":"+106,25 m"},
      {"t":"2021-07-07T12:00:00Z","v":106.158,"txt":"+106,15 m"},
      {"t":"2021-07-07T12:00:00Z","v":105.903,"txt":"+105,90 m"}
    ],
    "labelsCyan": [
      {"t":"2021-07-07T12:00:00Z","v":106.011,"txt":"+106,00 m"}
    ],
    "arrowShaft": [
      {"t":"2021-11-27T07:00:00Z","v":106.141,"t2":"2021-10-15T00:00:00Z","v2":106.021}
    ],
    "arrowHead": [
      {"t":"2021-10-12T07:00:00Z","v":106.0137}
    ]
  },
  "encoding": {
    "x": {
      "field": "t",
      "type": "temporal",
      "scale": {
        "type": "utc",
        "nice": false,
        "domain": [
          {"year": 2021, "month": 1, "date": 1, "utc": true},
          {"year": 2021, "month": 12, "date": 31, "hours": 12, "utc": true}
        ]
      },
      "axis": {
        "title": "Päivämäärä",
        "values": [
          {"year": 2021, "month": 1, "date": 1, "utc": true},
          {"year": 2021, "month": 2, "date": 1, "utc": true},
          {"year": 2021, "month": 3, "date": 1, "utc": true},
          {"year": 2021, "month": 4, "date": 1, "utc": true},
          {"year": 2021, "month": 5, "date": 1, "utc": true},
          {"year": 2021, "month": 6, "date": 1, "utc": true},
          {"year": 2021, "month": 7, "date": 1, "utc": true},
          {"year": 2021, "month": 8, "date": 1, "utc": true},
          {"year": 2021, "month": 9, "date": 1, "utc": true},
          {"year": 2021, "month": 10, "date": 1, "utc": true},
          {"year": 2021, "month": 11, "date": 1, "utc": true},
          {"year": 2021, "month": 12, "date": 1, "utc": true}
        ],
        "labelExpr": "utcFormat(datum.value, '%-d.%-m.')",
        "labelFlush": false,
        "labelOverlap": false,
        "ticks": false,
        "tickSize": 0,
        "labelPadding": 37,
        "labelFont": "Lato",
        "labelFontSize": 37,
        "labelColor": "#595959",
        "titleFont": "Lato",
        "titleFontSize": 42,
        "titleFontWeight": "normal",
        "titleColor": "#595959",
        "titlePadding": 6,
        "grid": true,
        "gridColor": "#d9d9d9",
        "gridWidth": 2,
        "gridOpacity": {"condition": {"test": "utcmonth(datum.value) == 0", "value": 0}, "value": 1},
        "domainColor": "#d9d9d9",
        "domainWidth": 3
      }
    },
    "y": {
      "field": "v",
      "type": "quantitative",
      "scale": {"domain": [105.4, 106.3], "nice": false, "zero": false},
      "axis": {
        "title": "Vedenkorkeus W",
        "values": [105.4, 105.5, 105.6, 105.7, 105.8, 105.9, 106.0, 106.1, 106.2],
        "labelExpr": "round(datum.value * 10) % 2 == 0 ? replace(format(datum.value, '~f'), '.', ',') : ''",
        "labelOverlap": false,
        "ticks": false,
        "tickSize": 0,
        "labelPadding": 40,
        "labelFont": "Lato",
        "labelFontSize": 37,
        "labelColor": "#595959",
        "titleFont": "Lato",
        "titleFontSize": 41,
        "titleFontWeight": "normal",
        "titleColor": "#595959",
        "titlePadding": 16,
        "grid": true,
        "gridColor": "#d9d9d9",
        "gridWidth": 2,
        "domainColor": "#3a3a3a",
        "domainWidth": 2.5
      }
    }
  },
  "layer": [
    {
      "data": {"name": "lower"},
      "mark": {"type": "line", "color": "#a6a6a6", "strokeWidth": 6, "clip": true},
      "encoding": {}
    },
    {
      "data": {"name": "target1"},
      "mark": {"type": "line", "color": "#546a2f", "strokeWidth": 7, "strokeDash": [27, 33], "strokeCap": "round"},
      "encoding": {}
    },
    {
      "data": {"name": "target2"},
      "mark": {"type": "line", "color": "#00b0f0", "strokeWidth": 7, "strokeDash": [16, 19], "strokeCap": "round"},
      "encoding": {}
    },
    {
      "data": {"name": "years"},
      "transform": [{"filter": "datum.s != '2023'"}],
      "mark": {"type": "line", "strokeWidth": 5.5, "clip": true},
      "encoding": {
        "color": {
          "field": "s",
          "type": "nominal",
          "scale": {
            "domain": ["2021", "2022", "2020", "2019", "2018", "2023"],
            "range": ["#ff0000", "#ffff00", "#f79646", "#3a8da5", "#9bbb59", "#7030a0"]
          },
          "legend": {
            "title": null,
            "orient": "none",
            "legendX": -46,
            "legendY": 1081,
            "direction": "horizontal",
            "columns": 2,
            "columnPadding": 81,
            "rowPadding": 30,
            "symbolType": "stroke",
            "symbolSize": 7396,
            "symbolStrokeWidth": 9,
            "labelFont": "Lato",
            "labelFontSize": 37,
            "labelColor": "#595959",
            "labelOffset": 10,
            "padding": 0
          }
        }
      }
    },
    {
      "data": {"name": "years"},
      "transform": [{"filter": "datum.s == '2023'"}],
      "mark": {"type": "line", "strokeWidth": 8, "clip": true},
      "encoding": {
        "color": {"field": "s", "type": "nominal"}
      }
    },
    {
      "data": {"name": "upper"},
      "mark": {"type": "line", "color": "#000000", "strokeWidth": 7, "clip": true},
      "encoding": {}
    },
    {
      "data": {"name": "arrowShaft"},
      "mark": {"type": "rule", "color": "#ff0000", "strokeWidth": 19},
      "encoding": {
        "x2": {"field": "t2"},
        "y2": {"field": "v2"}
      }
    },
    {
      "data": {"name": "arrowHead"},
      "mark": {"type": "point", "shape": "M0,-0.7L1,0.7L-1,0.7Z", "filled": true, "color": "#ff0000", "opacity": 1, "size": 3136, "angle": 243.9, "strokeWidth": 0}
    },
    {
      "data": {"name": "labelsBlack"},
      "mark": {"type": "text", "font": "Liberation Sans", "fontSize": 46, "align": "center", "baseline": "alphabetic", "color": "#000000"},
      "encoding": {"text": {"field": "txt"}}
    },
    {
      "data": {"name": "labelsCyan"},
      "mark": {"type": "text", "font": "Liberation Sans", "fontSize": 46, "align": "center", "baseline": "alphabetic", "color": "#00b0f0"},
      "encoding": {"text": {"field": "txt"}}
    }
  ]
}
